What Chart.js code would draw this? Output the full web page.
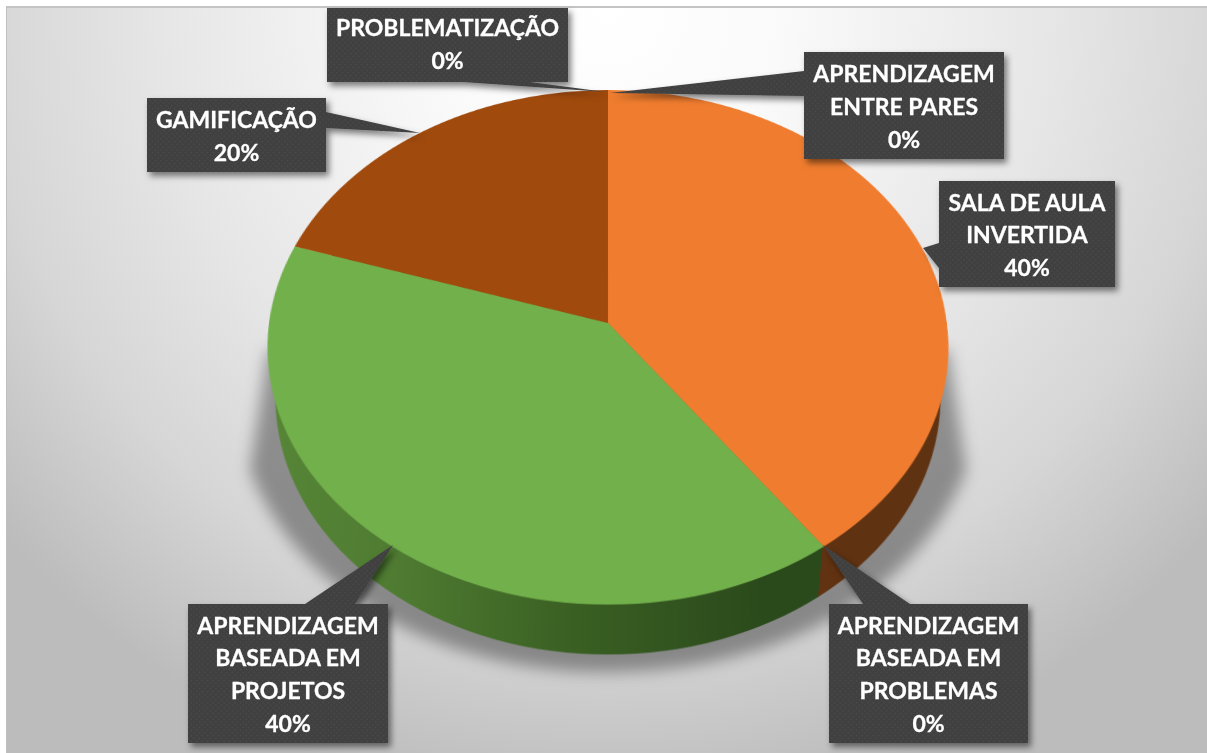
<!DOCTYPE html>
<html lang="pt">
<head>
<meta charset="utf-8">
<title>Metodologias ativas</title>
<script src="https://cdn.jsdelivr.net/npm/chart.js@4/dist/chart.umd.min.js"></script>
<style>
	html, body { margin: 0; background: #fff; overflow: hidden; }
	#stage { position: relative; width: 1207px; height: 753px; overflow: hidden; }
	#frame {
		position: absolute; left: 6px; top: 6px; width: 1201px; height: 747px;
		border-top: 2px solid #c4c4c4; border-left: 1px solid #c0c0c0; box-sizing: border-box;
		background: radial-gradient(ellipse 800px 800px at 600px 0px, #fff 0%, #fafafa 22%, #e6e6e6 56%, #d6d6d6 78%, #bcbcbc 100%);
	}
	canvas { position: absolute; transform-origin: 50% 50%; }
	svg { position: absolute; left: 0; top: 0; }
	text { font-family: Lato, "Open Sans", sans-serif; font-weight: 700; font-size: 23px; fill: #fff; stroke: #fff; stroke-width: 0.3px; text-anchor: middle; }
</style>
</head>
<body>
<div id="stage">
	<div id="frame"></div>
	<svg id="shadow" width="1207" height="753"></svg>
	<canvas id="wallChart"></canvas>
	<svg id="wallEdge" width="1207" height="753"></svg>
	<canvas id="topChart"></canvas>
	<svg id="labels" width="1207" height="753"></svg>
</div>
<script>
//CHART DATA
const categories = [
	"APRENDIZAGEM ENTRE PARES",
	"SALA DE AULA INVERTIDA",
	"APRENDIZAGEM BASEADA EM PROBLEMAS",
	"APRENDIZAGEM BASEADA EM PROJETOS",
	"GAMIFICAÇÃO",
	"PROBLEMATIZAÇÃO",
];
const percentValues = [0, 40, 0, 40, 20, 0];
const labelLines = [
	["APRENDIZAGEM", "ENTRE PARES"],
	["SALA DE AULA", "INVERTIDA"],
	["APRENDIZAGEM", "BASEADA EM", "PROBLEMAS"],
	["APRENDIZAGEM", "BASEADA EM", "PROJETOS"],
	["GAMIFICAÇÃO"],
	["PROBLEMATIZAÇÃO"],
];

//SLICE COLORS
const topColors = ["#5B9BD5", "#F07D2F", "#A5A5A5", "#72B04B", "#A04A0D", "#FFC000"];

//LABEL BOXES: x, y, w, h, TEXT OFFSET AND THE POINTER [base1, base2, tip]
const labelBoxes = [
	{ x: 804, y: 52, w: 200, h: 107, dy: 9.3, ptr: [[804, 71], [804, 96], [610, 93]] },
	{ x: 939, y: 181, w: 176, h: 106, dy: 9.3, ptr: [[939, 243], [939, 268], [923, 248]] },
	{ x: 829, y: 604, w: 199, h: 139, dy: 9.3, ptr: [[863, 604], [910, 604], [823, 545]] },
	{ x: 188, y: 604, w: 200, h: 139, dy: 9.3, ptr: [[305, 604], [355, 604], [393, 545]] },
	{ x: 147, y: 98, w: 179, h: 74, dy: 9.3, ptr: [[326, 112], [326, 128], [420, 133]] },
	{ x: 327, y: 8, w: 241, h: 74, dy: 7.3, ptr: [[463, 82], [530, 82], [606, 92]] },
];

//PIE PROJECTION: THE CIRCLE IS TILTED WITH A CSS HOMOGRAPHY
const canvasSize = 600;
const topFace = { x: 607.5, y: 323, a: 339, b: 255, p: -0.095 };
const bottomFace = { x: 607.5, y: 374, a: 331, b: 254, p: -0.095 };

const makePie = (id, colors) => {
	const canvas = document.getElementById(id);
	canvas.width = canvasSize;
	canvas.height = canvasSize;
	return new Chart(canvas.getContext("2d"), {
		type: "pie",
		data: {
			labels: categories,
			datasets: [{ data: percentValues, backgroundColor: colors, borderWidth: 0, hoverOffset: 0 }],
		},
		options: {
			responsive: false,
			animation: false,
			devicePixelRatio: 2,
			events: [],
			plugins: { legend: { display: false }, tooltip: { enabled: false } },
		},
	});
};

const tiltPie = (chart, face) => {
	const radius = chart.getDatasetMeta(0).data[1].outerRadius;
	const canvas = chart.canvas;
	canvas.style.left = face.x - canvasSize / 2 + "px";
	canvas.style.top = face.y - canvasSize / 2 + "px";
	canvas.style.transform =
		"matrix3d(" + face.a / radius + ",0,0,0, 0," + face.b / radius + ",0," + face.p / radius + ", 0,0,1,0, 0,0,0,1)";
};

//SIDE WALL GRADIENTS
const wallCtx = document.getElementById("wallChart").getContext("2d");
const greenWall = wallCtx.createLinearGradient(0, 0, canvasSize, 0);
greenWall.addColorStop(0, "#578637");
greenWall.addColorStop(0.2, "#4f7c32");
greenWall.addColorStop(0.45, "#3a6023");
greenWall.addColorStop(0.72, "#2b4a1c");
greenWall.addColorStop(1, "#2b4a1c");
const brownWall = wallCtx.createLinearGradient(0, 0, canvasSize, 0);
brownWall.addColorStop(0.6, "#6e3812");
brownWall.addColorStop(0.85, "#5f3212");
const wallColors = ["#000", brownWall, "#000", greenWall, "#6e3a10", "#000"];

tiltPie(makePie("wallChart", wallColors), bottomFace);
tiltPie(makePie("topChart", topColors), topFace);

//SVG HELPERS
const svgNs = "http://www.w3.org/2000/svg";
const addSvg = (parent, tag, attrs) => {
	const el = document.createElementNS(svgNs, tag);
	Object.keys(attrs).forEach((key) => el.setAttribute(key, attrs[key]));
	parent.appendChild(el);
	return el;
};

//SOFT SHADOW UNDER THE PIE
const shadowSvg = document.getElementById("shadow");
const shadowBlur = addSvg(addSvg(shadowSvg, "defs", {}), "filter", { id: "soft", x: "-20%", y: "-20%", width: "140%", height: "140%" });
addSvg(shadowBlur, "feGaussianBlur", { stdDeviation: 8 });
addSvg(shadowSvg, "path", {
	d: "M268 350 L250 470 C300 600 450 672 608 672 C770 672 915 600 966 470 L948 350 Z",
	fill: "rgba(0,0,0,0.36)",
	filter: "url(#soft)",
});

//WALL SEAM: THE GREEN WALL ENDS ON THE VERTICAL EDGE BELOW THE SLICE CORNER
addSvg(document.getElementById("wallEdge"), "polygon", { points: "823,543 818,597 780,558", fill: "#2b4a1c" });

//DATA LABELS
const labelSvg = document.getElementById("labels");
const defs = addSvg(labelSvg, "defs", {});
const dots = addSvg(defs, "pattern", { id: "dots", width: 5.5, height: 5.5, patternUnits: "userSpaceOnUse" });
addSvg(dots, "rect", { width: 5.5, height: 5.5, fill: "#404040" });
addSvg(dots, "circle", { cx: 1.4, cy: 1.4, r: 0.9, fill: "#4a4a4a" });
addSvg(dots, "circle", { cx: 4.1, cy: 4.1, r: 0.9, fill: "#4a4a4a" });
const drop = addSvg(defs, "filter", { id: "drop", x: "-20%", y: "-20%", width: "140%", height: "140%" });
addSvg(drop, "feDropShadow", { dx: 3, dy: 4, stdDeviation: 3, "flood-color": "#000", "flood-opacity": 0.5 });

const lineHeight = 32.7;
categories.forEach((name, i) => {
	const box = labelBoxes[i];
	const group = addSvg(labelSvg, "g", { filter: "url(#drop)" });
	addSvg(group, "polygon", { points: box.ptr.map((p) => p.join(",")).join(" "), fill: "url(#dots)" });
	addSvg(group, "rect", { x: box.x, y: box.y, width: box.w, height: box.h, fill: "url(#dots)" });
	const lines = labelLines[i].concat(percentValues[i] + "%");
	const firstBaseline = box.y + box.h / 2 - ((lines.length - 1) * lineHeight) / 2 + box.dy;
	lines.forEach((line, j) => {
		const text = addSvg(labelSvg, "text", { x: box.x + box.w / 2, y: firstBaseline + j * lineHeight });
		text.textContent = line;
	});
});
</script>
</body>
</html>
